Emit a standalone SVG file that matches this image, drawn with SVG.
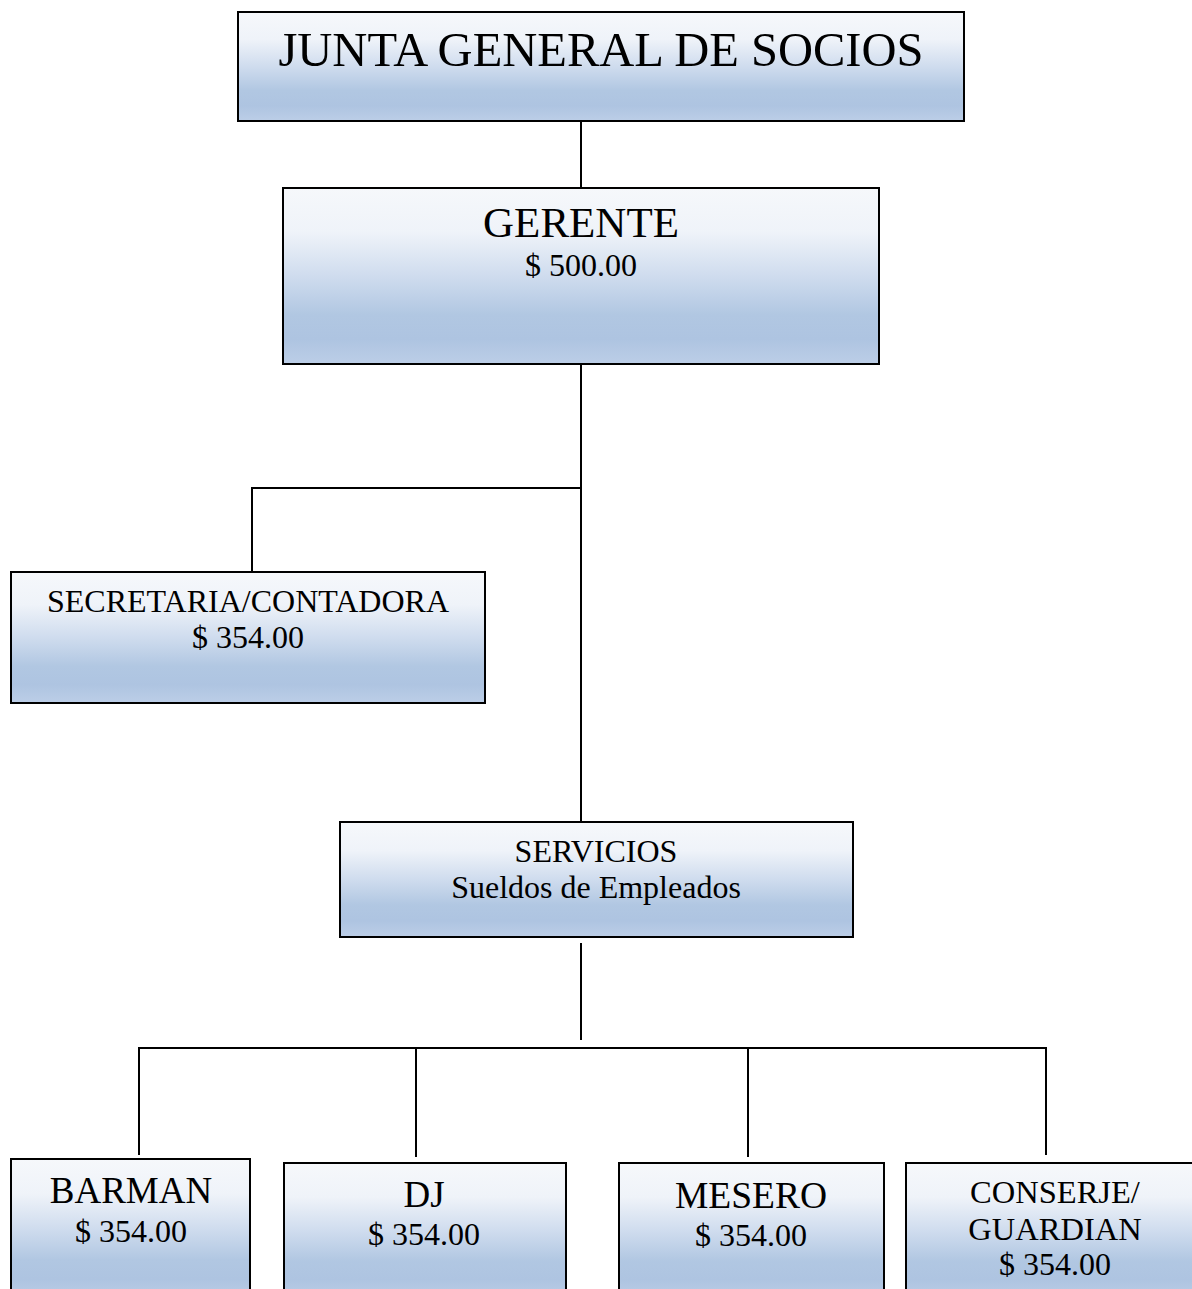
<svg xmlns="http://www.w3.org/2000/svg" width="1192" height="1289" viewBox="0 0 1192 1289">
<defs>
<linearGradient id="g" x1="0" y1="0" x2="0" y2="1">
<stop offset="0" stop-color="#f6f8fb"/>
<stop offset="0.25" stop-color="#eff3f9"/>
<stop offset="0.5" stop-color="#cfdcee"/>
<stop offset="0.72" stop-color="#b1c7e2"/>
<stop offset="0.86" stop-color="#aec4e1"/>
<stop offset="1" stop-color="#bccee7"/>
</linearGradient>
<style>
.box{fill:url(#g);stroke:#000;stroke-width:2}
.t{font-family:"Liberation Serif","Times New Roman",serif;fill:#000;text-anchor:middle}
.c{stroke:#000;stroke-width:2;fill:none}
</style>
</defs>
<rect width="1192" height="1289" fill="#fff"/>
<g id="connectors">
<line class="c" x1="581" y1="121" x2="581" y2="188"/>
<line class="c" x1="581" y1="364" x2="581" y2="822"/>
<polyline class="c" points="581,488 252,488 252,572"/>
<line class="c" x1="581" y1="943" x2="581" y2="1040"/>
<line class="c" x1="139" y1="1048" x2="1046" y2="1048"/>
<line class="c" x1="139" y1="1047" x2="139" y2="1155"/>
<line class="c" x1="416" y1="1048" x2="416" y2="1157"/>
<line class="c" x1="748" y1="1048" x2="748" y2="1157"/>
<line class="c" x1="1046" y1="1047" x2="1046" y2="1155"/>
</g>
<g id="junta">
<rect class="box" x="238" y="12" width="726" height="109"/>
<text class="t" x="601" y="66" font-size="48.5">JUNTA GENERAL DE SOCIOS</text>
</g>
<g id="gerente">
<rect class="box" x="283" y="188" width="596" height="176"/>
<text class="t" x="581" y="237" font-size="43">GERENTE</text>
<text class="t" x="581" y="276" font-size="32">$ 500.00</text>
</g>
<g id="secretaria">
<rect class="box" x="11" y="572" width="474" height="131"/>
<text class="t" x="248" y="612" font-size="32">SECRETARIA/CONTADORA</text>
<text class="t" x="248" y="648" font-size="32">$ 354.00</text>
</g>
<g id="servicios">
<rect class="box" x="340" y="822" width="513" height="115"/>
<text class="t" x="596" y="862" font-size="32">SERVICIOS</text>
<text class="t" x="596" y="898" font-size="32">Sueldos de Empleados</text>
</g>
<g id="barman">
<rect class="box" x="11" y="1159" width="239" height="140"/>
<text class="t" x="131" y="1203" font-size="37">BARMAN</text>
<text class="t" x="131" y="1242" font-size="32">$ 354.00</text>
</g>
<g id="dj">
<rect class="box" x="284" y="1163" width="282" height="136"/>
<text class="t" x="424" y="1207" font-size="37">DJ</text>
<text class="t" x="424" y="1245" font-size="32">$ 354.00</text>
</g>
<g id="mesero">
<rect class="box" x="619" y="1163" width="265" height="136"/>
<text class="t" x="751" y="1208" font-size="37.5">MESERO</text>
<text class="t" x="751" y="1246" font-size="32">$ 354.00</text>
</g>
<g id="conserje">
<rect class="box" x="906" y="1163" width="290" height="136"/>
<text class="t" x="1055" y="1203" font-size="32.5">CONSERJE/</text>
<text class="t" x="1055" y="1240" font-size="32.5">GUARDIAN</text>
<text class="t" x="1055" y="1275" font-size="32">$ 354.00</text>
</g>
</svg>
